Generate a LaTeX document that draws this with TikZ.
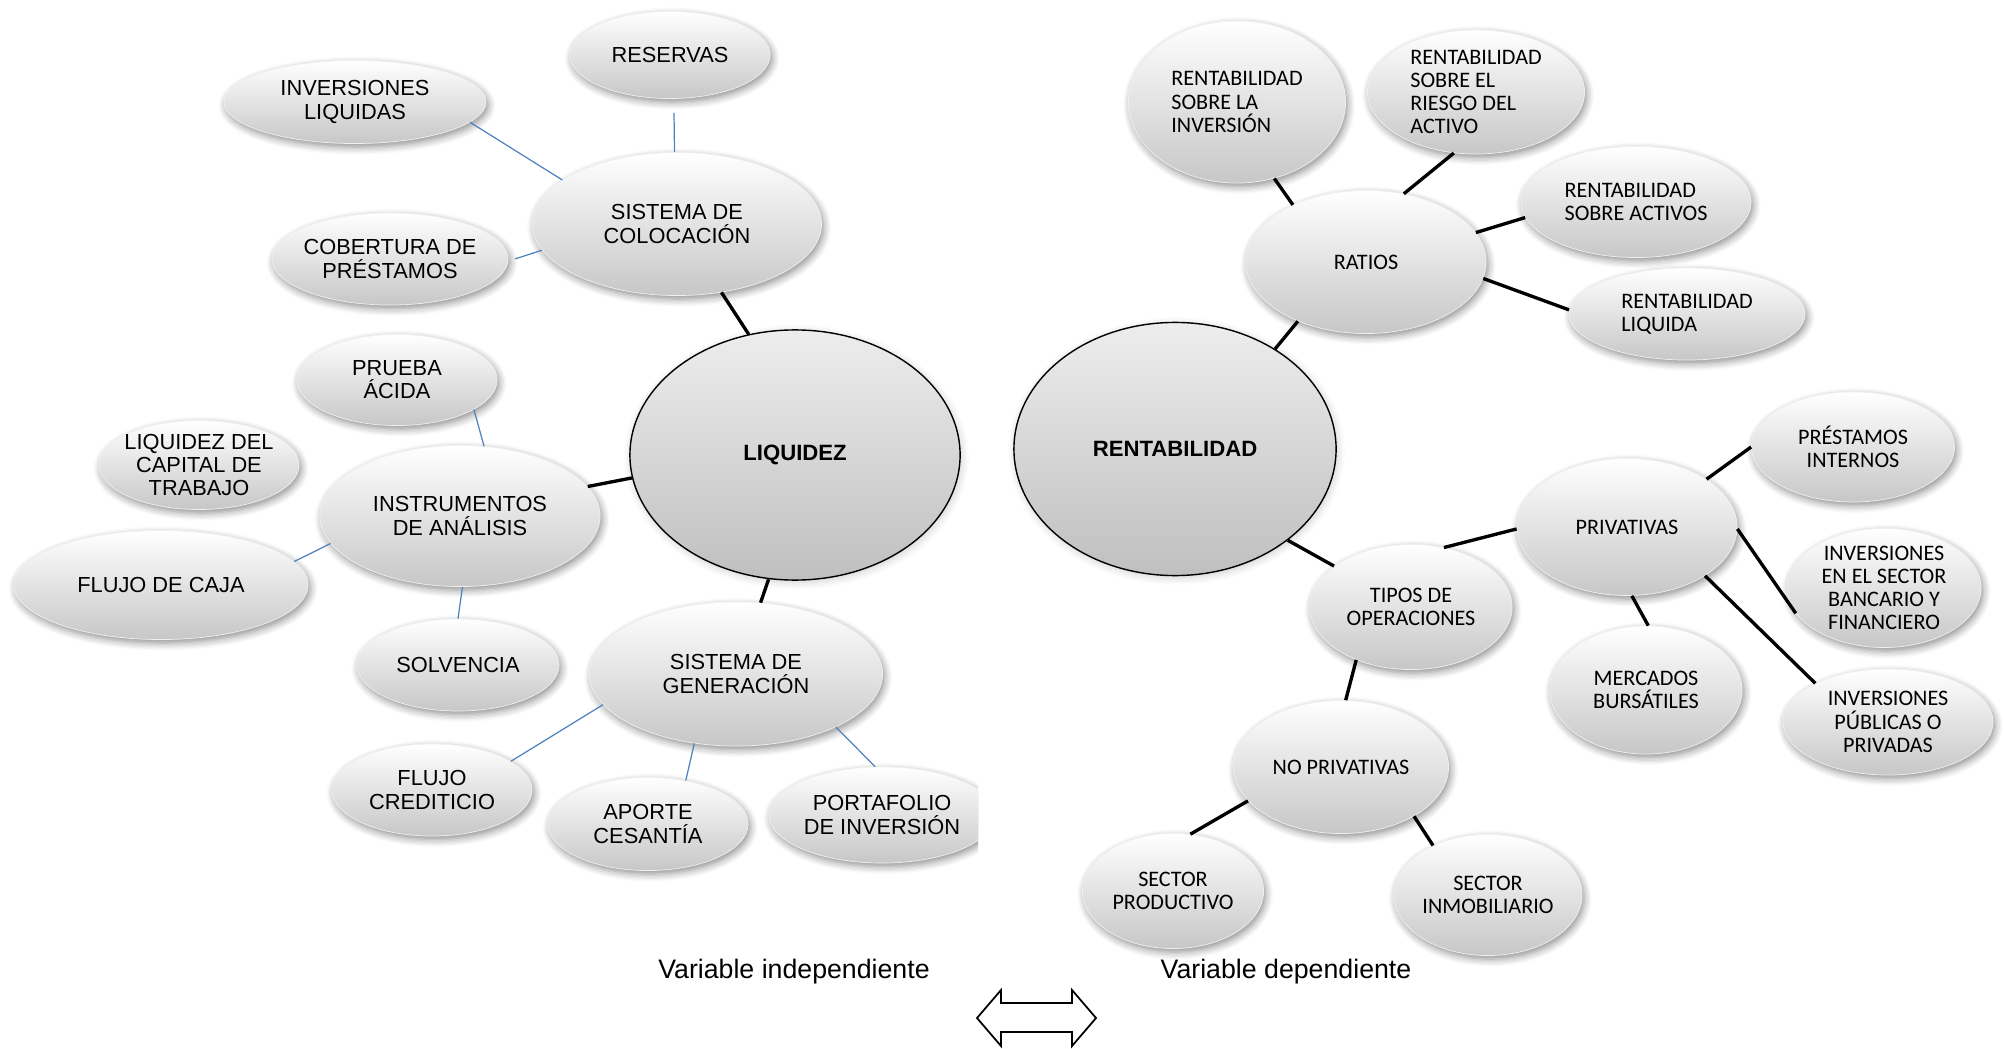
\documentclass[tikz,border=0pt]{standalone}
\usepackage{fontspec}
\setmainfont{Liberation Sans}
\newfontfamily\calfont{Carlito}
\usetikzlibrary{shapes.geometric,shadows.blur}
\definecolor{linkblue}{RGB}{79,129,189}

\tikzset{
  bubble/.style={ellipse,inner sep=-2pt,align=center,top color=white,middle color=black!3,bottom color=black!22,
    draw=black!6,line width=0.2pt,
    blur shadow={shadow xshift=0.6pt,shadow yshift=-1pt,shadow blur steps=6,shadow opacity=45}},
  leftbub/.style={bubble,font=\fontsize{6.2}{6.6}\selectfont},
  rightbub/.style={bubble,font=\calfont\fontsize{6.3}{6.6}\selectfont},
  core/.style={ellipse,inner sep=0pt,draw=black,line width=0.4pt,top color=black!7,bottom color=black!25,
    font=\bfseries\fontsize{6.3}{7}\selectfont,
    blur shadow={shadow xshift=0.4pt,shadow yshift=-0.6pt,shadow blur steps=5,shadow opacity=20}},
  sz/.style 2 args={minimum width=#1cm,minimum height=#2cm},
  bluelink/.style={linkblue,line width=0.35pt},
  blacklink/.style={black,line width=0.95pt},
}

\begin{document}
\begin{tikzpicture}[x=0.01cm,y=-0.01cm]
\useasboundingbox (0,0) rectangle (2004,1049);

% variable independiente
\node[core,sz={3.30}{2.50}] (liq) at (795,455) {LIQUIDEZ};
\node[leftbub,sz={2.89}{1.43}] (coloc) at (677,224) {SISTEMA DE\\COLOCACIÓN};
\node[leftbub,sz={2.00}{0.87}] (reservas) at (670,55) {RESERVAS};
\node[leftbub,sz={2.62}{0.83}] (invliq) at (355,102) {INVERSIONES\\LIQUIDAS};
\node[leftbub,sz={2.36}{0.92}] (cobert) at (390,259) {COBERTURA DE\\PRÉSTAMOS};
\node[leftbub,sz={2.80}{1.41}] (instr) at (460,516) {INSTRUMENTOS\\DE ANÁLISIS};
\node[leftbub,sz={2.00}{0.91}] (prueba) at (397,380) {PRUEBA\\ÁCIDA};
\node[leftbub,sz={2.00}{0.89}] (liqcap) at (199,465) {LIQUIDEZ DEL\\CAPITAL DE\\TRABAJO};
\node[leftbub,sz={2.94}{1.09}] (flujocaja) at (161,585) {FLUJO DE CAJA};
\node[leftbub,sz={2.02}{0.92}] (solv) at (458,665) {SOLVENCIA};
\node[leftbub,sz={2.93}{1.44}] (gener) at (736,674) {SISTEMA DE\\GENERACIÓN};
\node[leftbub,sz={2.00}{0.92}] (flujocred) at (432,790) {FLUJO\\CREDITICIO};
\node[leftbub,sz={2.00}{0.93}] (aporte) at (648,824) {APORTE\\CESANTÍA};
\begin{scope}
  \clip (0,0) rectangle (978,1049);
  \node[leftbub,sz={2.26}{0.96}] (portaf) at (882,815) {PORTAFOLIO\\DE INVERSIÓN};
\end{scope}

\draw[bluelink,shorten <=4pt] (reservas.-85) -- (coloc.92);
\draw[bluelink] (invliq.-10) -- (coloc.159);
\draw[bluelink,shorten <=2pt] (cobert.-1) -- (coloc.-169);
\draw[bluelink] (prueba.-21) -- (instr.71);
\draw[bluelink] (flujocaja.10) -- (instr.-168);
\draw[bluelink] (solv.90) -- (instr.-88);
\draw[bluelink] (flujocred.20) -- (gener.-167);
\draw[bluelink] (aporte.49) -- (gener.-121);
\draw[bluelink] (portaf.98) -- (gener.-28);
\draw[blacklink] (coloc.-57) -- (liq.111);
\draw[blacklink] (instr.13) -- (liq.-172);
\draw[blacklink] (gener.71) -- (liq.-102);

% variable dependiente
\node[core,sz={3.22}{2.53}] (rent) at (1175,449) {RENTABILIDAD};
\node[rightbub,sz={2.40}{1.43}] (ratios) at (1366,262) {RATIOS};
\node[rightbub,sz={2.17}{1.62},align=left] (rsli) at (1237,102) {RENTABILIDAD\\SOBRE LA\\INVERSIÓN};
\node[rightbub,sz={2.17}{1.24},align=left] (rsera) at (1476,92) {RENTABILIDAD\\SOBRE EL\\RIESGO DEL\\ACTIVO};
\node[rightbub,sz={2.30}{1.11},align=left] (rsa) at (1636,202) {RENTABILIDAD\\SOBRE ACTIVOS};
\node[rightbub,sz={2.36}{0.92},align=left] (rl) at (1687,314) {RENTABILIDAD\\LIQUIDA};
\node[rightbub,sz={2.02}{1.25}] (tipos) at (1411,607) {TIPOS DE\\OPERACIONES};
\node[rightbub,sz={2.20}{1.37}] (priv) at (1627,527) {PRIVATIVAS};
\node[rightbub,sz={2.03}{1.10}] (prest) at (1853,447) {PRÉSTAMOS\\INTERNOS};
\node[rightbub,sz={1.94}{1.19}] (invbanc) at (1884,588) {INVERSIONES\\EN EL SECTOR\\BANCARIO Y\\FINANCIERO};
\node[rightbub,sz={1.92}{1.28}] (merc) at (1646,690) {MERCADOS\\BURSÁTILES};
\node[rightbub,sz={2.10}{1.06}] (invpub) at (1888,722) {INVERSIONES\\PÚBLICAS O\\PRIVADAS};
\node[rightbub,sz={2.15}{1.33}] (noprov) at (1341,767) {NO PRIVATIVAS};
\node[rightbub,sz={1.81}{1.15}] (secprod) at (1173,891) {SECTOR\\PRODUCTIVO};
\node[rightbub,sz={1.88}{1.21}] (secinm) at (1488,895) {SECTOR\\INMOBILIARIO};

\draw[blacklink] (rent.45) -- (ratios.-139);
\draw[blacklink] (ratios.142) -- (rsli.-64);
\draw[blacklink] (ratios.61) -- (rsera.-110);
\draw[blacklink] (ratios.15) -- (rsa.-172);
\draw[blacklink] (ratios.-8) -- (rl.178);
\draw[blacklink] (rent.-39) -- (tipos.152);
\draw[blacklink] (tipos.61) -- (priv.-179);
\draw[blacklink] (priv.31) -- (prest.180);
\draw[blacklink] (priv.-1) -- (invbanc.-164);
\draw[blacklink] (priv.-86) -- (merc.88);
\draw[blacklink] (priv.-32) -- (invpub.152);
\draw[blacklink] (tipos.-136) -- (noprov.86);
\draw[blacklink] (noprov.-160) -- (secprod.73);
\draw[blacklink] (noprov.-34) -- (secinm.138);

% pie
\node[font=\fontsize{7.6}{9}\selectfont] (indep) at (794,972) {Variable independiente};
\node[font=\fontsize{7.6}{9}\selectfont] (dep) at (1286,972) {Variable dependiente};
\draw[line width=0.5pt,fill=white] (977,1018) -- (1001,990) -- (1001,1003) -- (1072,1003)
  -- (1072,990) -- (1096,1018) -- (1072,1046) -- (1072,1032) -- (1001,1032) -- (1001,1046) -- cycle;
\end{tikzpicture}
\end{document}
